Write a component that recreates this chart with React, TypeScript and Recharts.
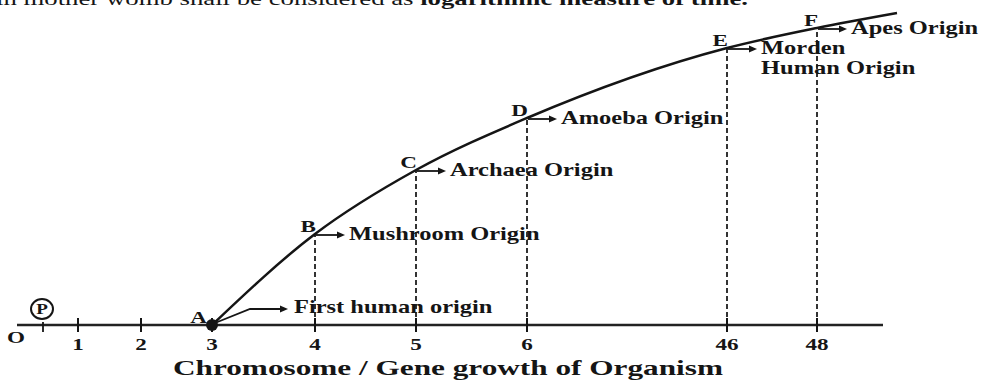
import React from "react";
import {
  LineChart,
  Line,
  XAxis,
  YAxis,
  ReferenceLine,
  Customized,
} from "recharts";

// axis marks (distance along the axis, arbitrary units)
const tickLabels = ["O", "P", "1", "2", "3", "4", "5", "6", "46", "48"];
const tickDistance = [0, 2.6, 6.1, 12.4, 19.5, 29.8, 39.9, 51.0, 71.0, 80.0];
const axisEnd = 86.6;

// stages on the growth curve
const stageLetters = ["A", "B", "C", "D", "E", "F"];
const stageChromosomes = ["3", "4", "5", "6", "46", "48"];
const stageGrowth = [0, 9.1, 15.5, 20.7, 27.7, 29.7];
const stageOrigins = [
  "First human origin",
  "Mushroom Origin",
  "Archaea Origin",
  "Amoeba Origin",
  "Morden\nHuman Origin",
  "Apes Origin",
];
const curveEndDistance = 88.0;
const curveEndGrowth = 31.2;

const axisTitle = "Chromosome / Gene growth of Organism";
const captionPlain = "in mother womb shall be considered as ";
const captionBold = "logarithmic measure of time.";

const curveData = [
  ...stageLetters.map((letter, i) => ({
    letter,
    distance: tickDistance[tickLabels.indexOf(stageChromosomes[i])],
    growth: stageGrowth[i],
    origin: stageOrigins[i],
  })),
  { letter: "", distance: curveEndDistance, growth: curveEndGrowth, origin: "" },
];

const INK = "#151515";
const SERIF = "'Liberation Serif', 'DejaVu Serif', serif";
const STRETCH = 1.36;

function Stretched({ x, y, anchor = "start", size = 17, weight = "bold", children }: any) {
  return (
    <text
      transform={`translate(${x},${y}) scale(${STRETCH},1)`}
      textAnchor={anchor}
      fontSize={size}
      fontWeight={weight}
      fontFamily={SERIF}
      fill={INK}
    >
      {children}
    </text>
  );
}

function Head({ x, y }: { x: number; y: number }) {
  return <path d={`M${x},${y} L${x - 8},${y - 3.5} L${x - 8},${y + 3.5} Z`} fill={INK} />;
}

function StageDot(props: any) {
  const { cx, cy, index, payload } = props;
  if (!payload.letter) return <g key={`end-${index}`} />;
  if (index === 0) {
    return (
      <g key={`stage-${index}`}>
        <circle cx={cx} cy={cy} r={6} fill={INK} />
        <Stretched x={cx - 5} y={cy - 2} anchor="end">{payload.letter}</Stretched>
        <polyline
          points={`${cx + 3},${cy - 2} ${cx + 38},${cy - 16} ${cx + 70},${cy - 16}`}
          fill="none"
          stroke={INK}
          strokeWidth={1.8}
        />
        <Head x={cx + 76} y={cy - 16} />
        <Stretched x={cx + 82} y={cy - 12} size={18}>{payload.origin}</Stretched>
      </g>
    );
  }
  const lines = String(payload.origin).split("\n");
  return (
    <g key={`stage-${index}`}>
      <Stretched x={cx + 1} y={cy - 2} anchor="end">{payload.letter}</Stretched>
      <line x1={cx + 1} x2={cx + 24} y1={cy + 1} y2={cy + 1} stroke={INK} strokeWidth={1.8} />
      <Head x={cx + 30} y={cy + 1} />
      {lines.map((t, k) => (
        <Stretched key={k} x={cx + 34} y={cy + 6 + k * 20} size={18}>{t}</Stretched>
      ))}
    </g>
  );
}

function AxisTick(props: any) {
  const { x, y, payload } = props;
  const label = tickLabels[tickDistance.indexOf(payload.value)];
  if (label === "O") {
    return <Stretched x={x - 1} y={y + 18} anchor="middle">O</Stretched>;
  }
  if (label === "P") {
    return (
      <g>
        <line x1={x} x2={x} y1={y - 3} y2={y + 7} stroke={INK} strokeWidth={1.8} />
        <ellipse cx={x - 1} cy={y - 16} rx={11} ry={10} fill="none" stroke={INK} strokeWidth={2} />
        <Stretched x={x - 1} y={y - 11} anchor="middle" size={14}>P</Stretched>
      </g>
    );
  }
  return (
    <g>
      <line x1={x} x2={x} y1={y - 7} y2={y + 7} stroke={INK} strokeWidth={2} />
      <Stretched x={x} y={y + 25} anchor="middle">{label}</Stretched>
    </g>
  );
}

function Caption() {
  return (
    <text x={-4} y={5} fontSize={18} fontFamily={SERIF} fill={INK} textLength={752} lengthAdjust="spacingAndGlyphs">
      <tspan>{captionPlain}</tspan>
      <tspan fontWeight="bold">{captionBold}</tspan>
    </text>
  );
}

function Title() {
  return (
    <text
      x={173}
      y={375}
      fontSize={21}
      fontWeight="bold"
      fontFamily={SERIF}
      fill={INK}
      textLength={550}
      lengthAdjust="spacingAndGlyphs"
    >
      {axisTitle}
    </text>
  );
}

export default function App() {
  return (
    <div style={{ position: "absolute", left: 0, top: 0, background: "#fff" }}>
      <LineChart
        width={983}
        height={380}
        data={curveData}
        margin={{ top: 8, right: 86, left: 17, bottom: 25 }}
      >
        <XAxis
          dataKey="distance"
          type="number"
          domain={[0, curveEndDistance]}
          ticks={tickDistance}
          interval={0}
          tick={<AxisTick />}
          tickLine={false}
          tickSize={0}
          tickMargin={0}
          axisLine={false}
          height={30}
        />
        <YAxis
          type="number"
          domain={[0, 31.7]}
          width={0}
          tick={false}
          tickLine={false}
          axisLine={{ stroke: "#333", strokeWidth: 2.5 }}
        />
        <ReferenceLine
          segment={[
            { x: 0, y: 0 },
            { x: axisEnd, y: 0 },
          ]}
          stroke="#222"
          strokeWidth={2.5}
        />
        {curveData.slice(1, stageLetters.length).map((d) => (
          <ReferenceLine
            key={d.letter}
            segment={[
              { x: d.distance, y: 0 },
              { x: d.distance, y: d.growth },
            ]}
            stroke="#333"
            strokeWidth={2}
            strokeDasharray="5 3"
          />
        ))}
        <Line
          type="monotone"
          dataKey="growth"
          stroke={INK}
          strokeWidth={2.5}
          dot={StageDot}
          activeDot={false}
          isAnimationActive={false}
        />
        <Customized component={Caption} />
        <Customized component={Title} />
      </LineChart>
    </div>
  );
}
